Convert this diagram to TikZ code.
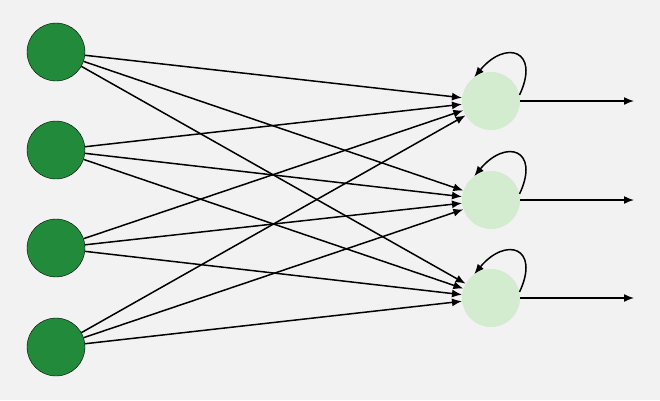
\documentclass[tikz,border=0pt]{standalone}
\usetikzlibrary{arrows.meta}
\definecolor{bg}{HTML}{F2F2F2}
\definecolor{dk}{HTML}{228B3B}
\definecolor{lt}{HTML}{D3EBCF}
\begin{document}
\begin{tikzpicture}[x=1pt,y=-1pt,
  inn/.style={circle,draw=black,fill=dk,minimum size=58pt,inner sep=0pt},
  hid/.style={circle,fill=lt,minimum size=58pt,inner sep=0pt},
  arr/.style={-{Latex[length=10pt,width=8pt]},line width=1.5pt}]
\fill[bg] (0,0) rectangle (660,400);
\useasboundingbox (0,0) rectangle (660,400);
\foreach \i/\y in {1/52,2/150,3/248,4/347} \node[inn] (a\i) at (56,\y) {};
\foreach \j/\y in {1/101,2/200,3/298} {
  \node[hid] (b\j) at (491,\y) {};
  \coordinate (o\j) at (634,\y);
}
\foreach \i in {1,...,4} \foreach \j in {1,2,3} \draw[arr] (a\i) -- (b\j);
\foreach \j in {1,2,3} {
  \draw[arr] (b\j.12) to[out=65,in=50,looseness=2.6] (b\j.125);
}
\foreach \j in {1,2,3} \draw[arr] (b\j.east) -- (o\j);
\end{tikzpicture}
\end{document}
